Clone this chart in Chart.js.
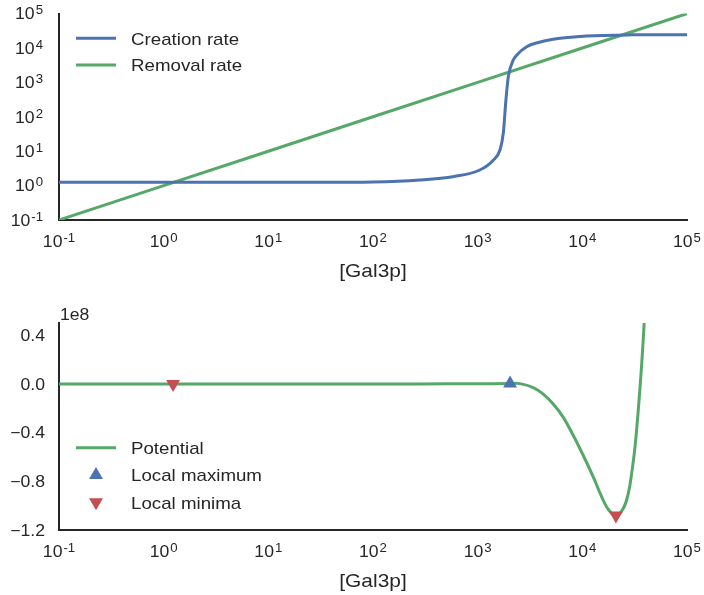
<!DOCTYPE html>
<html>
<head>
<meta charset="utf-8">
<script src="https://cdn.jsdelivr.net/npm/chart.js@4.4.1/dist/chart.umd.min.js"></script>
<style>
    html, body { margin: 0; padding: 0; background: #fff; }
    #wrap { position: relative; width: 704px; height: 595px; }
    canvas { position: absolute; left: 0; }
    #rates { top: 0; }
    #potential { top: 295px; }
</style>
</head>
<body>
<div id="wrap">
    <canvas id="rates" width="704" height="295"></canvas>
    <canvas id="potential" width="704" height="300"></canvas>
</div>
<script>
// values
const creationX = [0.1, 1, 10, 30, 100, 281, 581, 1047, 1409, 1633, 1758, 1862, 1963, 2188, 2371, 2938, 3800, 5248, 10965, 30000, 100000];
const creationY = [1.25, 1.25, 1.25, 1.25, 1.28, 1.46, 1.82, 2.84, 5.5, 10.8, 33.8, 308, 1470, 4470, 6300, 10900, 14500, 17900, 22300, 24100, 24400];
const removalX = [0.1, 1, 10, 100, 1000, 10000, 100000];
const removalY = [0.1, 1, 10, 100, 1000, 10000, 100000];

const potentialX = [0.1, 1, 10, 100, 281, 1000, 2040, 2535, 3396, 4236, 5272, 6577, 8204, 10209, 12735, 15311, 17701,
    20941, 24604, 27479, 29580, 31842, 34198, 36898, 38815, 41687];
const potentialY = [0, 0, 0, 0, 0, 0.001e8, 0.003e8, 0.002e8, -0.03e8, -0.084e8, -0.166e8, -0.275e8, -0.424e8, -0.588e8, -0.765e8, -0.928e8, -1.031e8,
    -1.08e8, -1.023e8, -0.9e8, -0.737e8, -0.52e8, -0.22e8, 0.161e8, 0.473e8, 0.9e8];
const maxX = [2040];
const maxY = [0.003e8];
const minX = [1.23, 20941];
const minY = [0, -1.08e8];

const logTickExps = [-1, 0, 1, 2, 3, 4, 5];
const potentialTicks = [-1.2e8, -0.8e8, -0.4e8, 0, 0.4e8];

const BLUE = "#4C72B0";
const GREEN = "#55A868";
const RED = "#C44E52";
const INK = "#262626";
const FONT = '"Liberation Sans", Arial, sans-serif';
const SX = 1.1; // the reference text is a little wider than it is tall

const toPoints = (xs, ys) => xs.map((x, i) => ({ x: x, y: ys[i] }));

function textWidth(ctx, s, size) {
    ctx.font = size + "px " + FONT;
    return ctx.measureText(s).width * SX;
}

// left-aligned, alphabetic baseline, stretched horizontally
function putText(ctx, s, size, left, baseline) {
    ctx.font = size + "px " + FONT;
    ctx.save();
    ctx.translate(left, baseline);
    ctx.scale(SX, 1);
    ctx.textAlign = "left";
    ctx.textBaseline = "alphabetic";
    ctx.fillText(s, 0, 0);
    ctx.restore();
}

// "10" with a raised exponent, like matplotlib mathtext
function drawPow(ctx, exp, x, y, align) {
    const sup = String(exp);
    const wb = textWidth(ctx, "10", 16);
    const ws = textWidth(ctx, sup, 12);
    const w = wb + 1 + ws;
    const left = align === "center" ? x - w / 2 : x - w;
    const baseline = y + 5.7;
    putText(ctx, "10", 16, left, baseline);
    putText(ctx, sup, 12, left + wb + 1, baseline - 5);
}

// all axis text and the legends are drawn here
const textPlugin = {
    id: "mplText",
    afterDraw(chart, args, opts) {
        const { ctx, chartArea } = chart;
        const xs = chart.scales.x;
        const ys = chart.scales.y;
        ctx.save();
        ctx.fillStyle = INK;

        xs.ticks.forEach(t => {
            drawPow(ctx, Math.round(Math.log10(t.value)), xs.getPixelForValue(t.value), chartArea.bottom + 21, "center");
        });

        if (ys.type === "logarithmic") {
            ys.ticks.forEach(t => {
                drawPow(ctx, Math.round(Math.log10(t.value)), 43, ys.getPixelForValue(t.value), "right");
            });
        } else {
            ys.ticks.forEach(t => {
                const v = t.value / 1e8;
                const s = (v < 0 ? "\u2212" : "") + Math.abs(v).toFixed(1);
                putText(ctx, s, 16, 45 - textWidth(ctx, s, 16), ys.getPixelForValue(t.value) + 5.7);
            });
            putText(ctx, "1e8", 16, chartArea.left + 1, chartArea.top - 3);
        }

        const title = "[Gal3p]";
        const cx = (chartArea.left + chartArea.right) / 2;
        putText(ctx, title, 19, cx - textWidth(ctx, title, 19) / 2, chartArea.bottom + 57);

        // legend
        opts.rows.forEach((row, i) => {
            const ds = chart.data.datasets[row.ds];
            const y = chartArea.top + opts.top + i * opts.step;
            if (ds.showLine === false) {
                ctx.save();
                ctx.fillStyle = ds.backgroundColor;
                Chart.helpers.drawPoint(ctx, {
                    pointStyle: "triangle",
                    radius: ds.pointRadius,
                    rotation: ds.pointRotation || 0,
                    borderWidth: 0
                }, 96, y);
                ctx.restore();
            } else {
                ctx.strokeStyle = ds.borderColor;
                ctx.lineWidth = ds.borderWidth;
                ctx.beginPath();
                ctx.moveTo(76, y);
                ctx.lineTo(116, y);
                ctx.stroke();
            }
            ctx.fillStyle = INK;
            putText(ctx, ds.label, 17, 131, y + 6.2);
        });
        ctx.restore();
    }
};

const spine = { display: true, color: INK, width: 2 };

function logAxis(axisSize) {
    return {
        type: "logarithmic",
        min: 0.1,
        max: 100000,
        grid: { display: false },
        border: spine,
        ticks: { display: false },
        afterBuildTicks: s => { s.ticks = logTickExps.map(e => ({ value: Math.pow(10, e) })); },
        afterFit: s => { if (s.isHorizontal()) { s.height = axisSize; } else { s.width = axisSize; } }
    };
}

new Chart(document.getElementById("rates"), {
    type: "line",
    data: {
        datasets: [
            {
                label: "Creation rate",
                data: toPoints(creationX, creationY),
                borderColor: BLUE,
                borderWidth: 3,
                pointRadius: 0,
                cubicInterpolationMode: "monotone"
            },
            {
                label: "Removal rate",
                data: toPoints(removalX, removalY),
                borderColor: GREEN,
                borderWidth: 3,
                pointRadius: 0
            }
        ]
    },
    options: {
        responsive: false,
        animation: false,
        devicePixelRatio: 1,
        layout: { padding: { top: 13.6, right: 17, left: 0, bottom: 0 } },
        plugins: {
            legend: { display: false },
            tooltip: { enabled: false },
            mplText: { top: 24.7, step: 26.7, rows: [{ ds: 0 }, { ds: 1 }] }
        },
        scales: {
            x: logAxis(75),
            y: logAxis(59)
        }
    },
    plugins: [textPlugin]
});

new Chart(document.getElementById("potential"), {
    type: "line",
    data: {
        datasets: [
            {
                label: "Potential",
                data: toPoints(potentialX, potentialY),
                borderColor: GREEN,
                borderWidth: 3,
                pointRadius: 0,
                tension: 0.4,
                order: 2
            },
            {
                label: "Local maximum",
                data: toPoints(maxX, maxY),
                showLine: false,
                pointStyle: "triangle",
                pointRadius: 8,
                backgroundColor: BLUE,
                borderWidth: 0,
                order: 1
            },
            {
                label: "Local minima",
                data: toPoints(minX, minY),
                showLine: false,
                pointStyle: "triangle",
                pointRotation: 180,
                pointRadius: 8,
                backgroundColor: RED,
                borderWidth: 0,
                order: 1
            }
        ]
    },
    options: {
        responsive: false,
        animation: false,
        devicePixelRatio: 1,
        layout: { padding: { top: 28, right: 17, left: 0, bottom: 0 } },
        plugins: {
            legend: { display: false },
            tooltip: { enabled: false },
            mplText: { top: 124.7, step: 27.3, rows: [{ ds: 0 }, { ds: 1 }, { ds: 2 }] }
        },
        scales: {
            x: logAxis(65),
            y: {
                type: "linear",
                min: -1.2e8,
                max: 0.5e8,
                grid: { display: false },
                border: spine,
                ticks: { display: false },
                afterBuildTicks: s => { s.ticks = potentialTicks.map(v => ({ value: v })); },
                afterFit: s => { s.width = 59; }
            }
        }
    },
    plugins: [textPlugin]
});
</script>
</body>
</html>
